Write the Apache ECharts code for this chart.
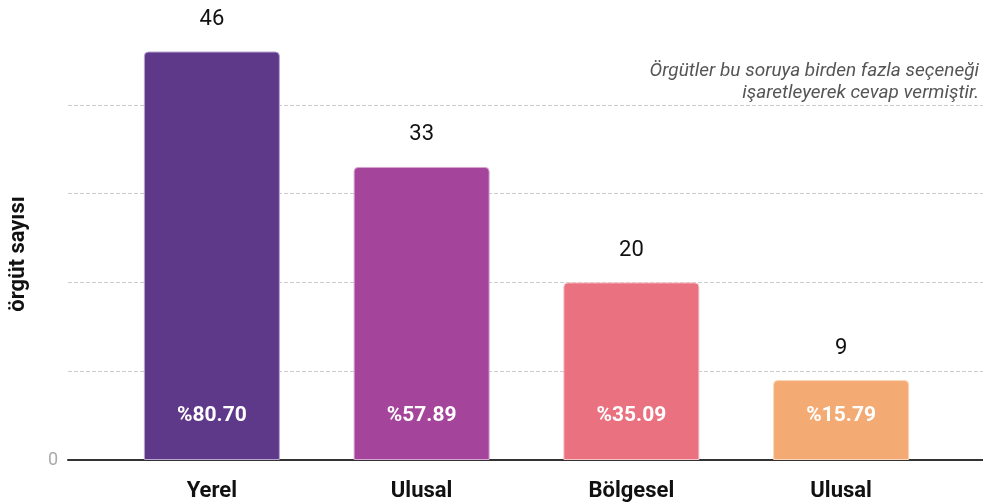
<!DOCTYPE html>
<html>
<head>
<meta charset="utf-8">
<style>
  html, body { margin: 0; padding: 0; background: #fff; }
  #chart { width: 983px; height: 504px; }
</style>
<script src="https://cdn.jsdelivr.net/npm/echarts@6/dist/echarts.min.js"></script>
</head>
<body>
<div id="chart"></div>
<script>
const categories = ['Yerel', 'Ulusal', 'Bölgesel', 'Ulusal'];
const counts = [46, 33, 20, 9];
const percents = ['%80.70', '%57.89', '%35.09', '%15.79'];
const barColors = ['#5E3889', '#A4449A', '#EA717F', '#F4AB73'];
const borderColors = ['#B9A5D0', '#D9A6D3', '#F7C3C9', '#FAD6BA'];

const FONT = 'Roboto';

const chart = echarts.init(document.getElementById('chart'));

chart.setOption({
  animation: false,
  textStyle: { fontFamily: FONT },
  grid: [
    // frame: gridlines + base axis across the full width
    { left: 68, right: 0, top: 16, bottom: 44 },
    // bars
    { left: 107, right: 37, top: 16, bottom: 44 }
  ],
  xAxis: [
    {
      gridIndex: 0,
      type: 'category',
      data: [''],
      axisLine: { lineStyle: { color: '#333', width: 2 } },
      axisTick: { show: false },
      axisLabel: { show: false }
    },
    {
      gridIndex: 1,
      type: 'category',
      data: categories,
      axisLine: { show: false },
      axisTick: { show: false },
      axisLabel: {
        margin: 20,
        color: '#111',
        fontSize: 22,
        fontWeight: 'bold',
        fontFamily: FONT
      }
    }
  ],
  yAxis: [
    {
      gridIndex: 0,
      type: 'value',
      min: 0,
      max: 50,
      interval: 10,
      axisLine: { show: false },
      axisTick: { show: false },
      axisLabel: {
        margin: 10,
        color: '#aaa',
        fontSize: 18,
        fontFamily: FONT,
        formatter: (v) => (v === 0 ? '0' : '')
      },
      splitLine: {
        show: true,
        showMinLine: false,
        showMaxLine: false,
        lineStyle: { color: '#ccc', type: 'dashed', width: 1 }
      }
    },
    {
      gridIndex: 1,
      type: 'value',
      min: 0,
      max: 50,
      show: false
    }
  ],
  graphic: [
    {
      type: 'text',
      x: 18,
      y: 254,
      rotation: Math.PI / 2,
      style: {
        text: 'örgüt sayısı',
        fill: '#111',
        font: 'bold 22px ' + FONT,
        textAlign: 'center',
        textVerticalAlign: 'middle'
      }
    },
    {
      type: 'text',
      right: 4,
      top: 60,
      style: {
        text: 'Örgütler bu soruya birden fazla seçeneği\nişaretleyerek cevap vermiştir.',
        fill: '#555',
        font: 'italic 19px ' + FONT,
        textAlign: 'right',
        lineHeight: 22
      }
    }
  ],
  series: [
    {
      type: 'bar',
      xAxisIndex: 1,
      yAxisIndex: 1,
      barWidth: 136,
      data: counts.map((v, i) => ({
        value: v,
        itemStyle: {
          color: barColors[i],
          borderColor: borderColors[i],
          borderWidth: 1,
          borderRadius: [4, 4, 0, 0]
        }
      })),
      label: {
        show: true,
        position: 'top',
        distance: 21,
        color: '#111',
        fontSize: 22,
        fontFamily: FONT
      },
      z: 3
    },
    {
      // percent labels sitting near the bottom of each bar
      type: 'bar',
      xAxisIndex: 1,
      yAxisIndex: 1,
      barWidth: 136,
      barGap: '-100%',
      data: counts,
      itemStyle: { color: 'transparent' },
      label: {
        show: true,
        position: 'insideBottom',
        distance: 34,
        color: '#fff',
        fontSize: 21,
        fontWeight: 'bold',
        fontFamily: FONT,
        formatter: (p) => percents[p.dataIndex]
      },
      silent: true,
      z: 4
    }
  ]
});
</script>
</body>
</html>
